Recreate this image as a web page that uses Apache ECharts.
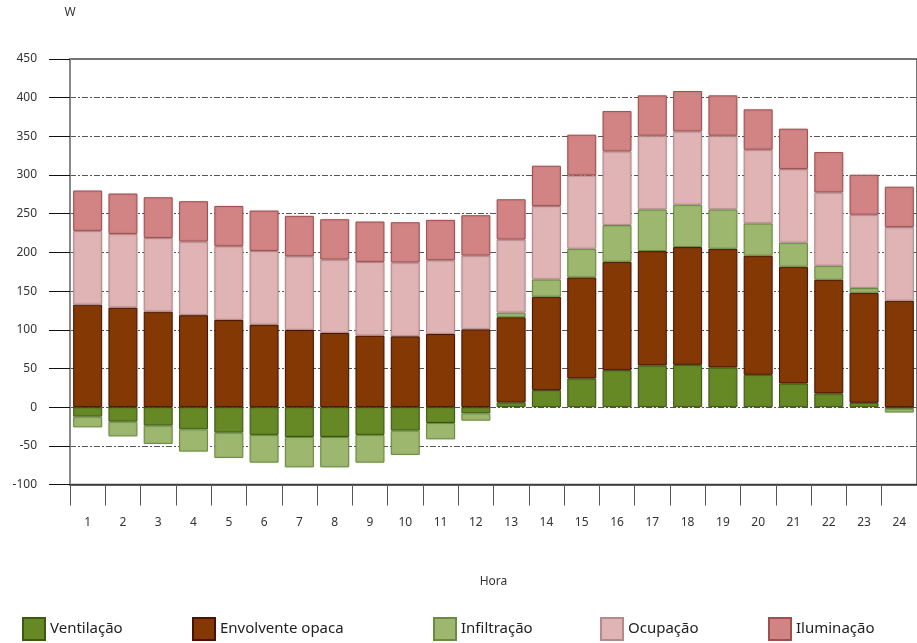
<!DOCTYPE html>
<html>
<head>
<meta charset="utf-8">
<script src="https://cdn.jsdelivr.net/npm/echarts@6/dist/echarts.min.js"></script>
<style>
  html, body { margin: 0; padding: 0; background: #fff; }
  #chart { width: 917px; height: 643px; }
</style>
</head>
<body>
<div id="chart"></div>
<script>
// Hourly heat-gain components (W)
const hours = ['1','2','3','4','5','6','7','8','9','10','11','12','13','14','15','16','17','18','19','20','21','22','23','24'];

const ventilacao = [-12.3, -18.8, -23.9, -28.7, -33, -35.9, -38.6, -38.6, -35.9, -30.4, -20.5, -8, 6.2, 22, 37.1, 47.8, 53.9, 54.7, 51.3, 41.8, 30.6, 17.7, 5.6, -2];
const envolvente = [132.5, 128.7, 123.4, 118.9, 112.8, 106.7, 99.8, 95.9, 92.5, 91.6, 94.6, 100.6, 110, 120.7, 130.6, 140.1, 147.8, 152.2, 153.4, 153.9, 150.9, 146.9, 142.2, 137.5];
const infiltracao = [-13.8, -19, -23.7, -28.8, -32.7, -35.9, -39.2, -39.2, -35.9, -31.4, -21.1, -9.5, 6, 22.4, 37, 47.4, 53.9, 54.7, 50.9, 41.8, 31, 18.1, 6.1, -5];
const ocupacao = [95.3, 95.2, 95.3, 95.1, 95.2, 95.2, 95.2, 94.8, 95.2, 95.3, 95.3, 95.3, 94.4, 94.8, 94.8, 95.3, 95.2, 94.8, 95.2, 95.2, 95.2, 94.8, 94.8, 95.2];
const iluminacao = [52.2, 52.2, 52.6, 52.2, 52, 52.2, 52.2, 52.2, 52.2, 52.1, 52.1, 52.2, 52.1, 52.1, 52.6, 52.1, 52.2, 52.2, 52.2, 52.2, 52.2, 52.2, 51.7, 52.2];

const yTicks = { min: -100, max: 450, step: 50 };

const seriesDefs = [
  { name: 'Ventilação', data: ventilacao, fill: '#668926', edge: '#3d5a12' },
  { name: 'Envolvente opaca', data: envolvente, fill: '#843905', edge: '#4a1200' },
  { name: 'Infiltração', data: infiltracao, fill: '#9db86e', edge: '#6b8c3e' },
  { name: 'Ocupação', data: ocupacao, fill: '#e0b3b4', edge: '#b38b8c' },
  { name: 'Iluminação', data: iluminacao, fill: '#d28383', edge: '#a04f50' }
];

// left offsets of the legend entries along the bottom row
const legendLefts = [22, 192, 433, 600, 768];

const font = '"Noto Sans", "Liberation Sans", Arial, sans-serif';

const chart = echarts.init(document.getElementById('chart'), null, { renderer: 'canvas' });

chart.setOption({
  animation: false,
  backgroundColor: '#ffffff',
  textStyle: { fontFamily: font },
  // plot frame: the border supplies the solid lines at 450 and -100
  grid: {
    left: 70, right: -2, top: 59, bottom: 158.5, containLabel: false,
    show: true, backgroundColor: 'transparent', borderColor: '#454545', borderWidth: 1.5
  },
  legend: seriesDefs.map((s, i) => ({
    bottom: 2,
    left: legendLefts[i],
    padding: 0,
    itemWidth: 22,
    itemHeight: 22,
    icon: 'rect',
    textStyle: { fontSize: 15, color: '#222', fontFamily: font },
    data: [s.name]
  })),
  xAxis: {
    type: 'category',
    data: hours,
    position: 'bottom',
    boundaryGap: true,
    name: 'Hora',
    nameLocation: 'middle',
    nameGap: 91,
    nameTextStyle: { fontSize: 12, color: '#333' },
    axisLine: { show: true, onZero: false, lineStyle: { color: '#3a3a3a', width: 1.5 } },
    axisTick: { show: true, alignWithLabel: false, length: 21, lineStyle: { color: '#555', width: 1 } },
    axisLabel: { margin: 32, fontSize: 12, color: '#333' },
    splitLine: { show: false }
  },
  yAxis: {
    type: 'value',
    min: yTicks.min,
    max: yTicks.max,
    interval: yTicks.step,
    name: 'W',
    nameLocation: 'end',
    nameGap: 40,
    nameTextStyle: { fontSize: 12, color: '#333', align: 'center' },
    axisLine: { show: true, lineStyle: { color: '#888', width: 2 } },
    axisTick: { show: true, length: 21, lineStyle: { color: '#111', width: 1 } },
    axisLabel: { margin: 33, fontSize: 12, color: '#333' },
    splitLine: {
      show: true,
      showMinLine: false,
      showMaxLine: false,
      lineStyle: { color: '#555', width: 1, type: [6, 2, 2, 2] }
    }
  },
  series: seriesDefs.map(s => ({
    name: s.name,
    type: 'bar',
    stack: 'total',
    barCategoryGap: '18%',
    data: s.data,
    itemStyle: {
      color: s.fill,
      borderColor: s.edge,
      borderWidth: 1,
      shadowColor: 'rgba(0,0,0,0.12)',
      shadowBlur: 2
    },
    emphasis: { disabled: true }
  }))
});
</script>
</body>
</html>
